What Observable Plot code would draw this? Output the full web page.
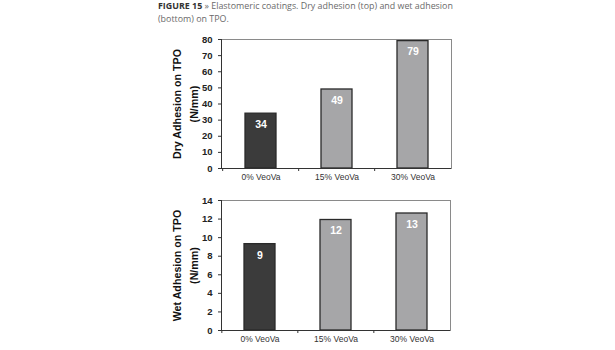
<!DOCTYPE html>
<html>
<head>
<meta charset="utf-8">
<script src="https://cdn.jsdelivr.net/npm/d3@7"></script>
<script src="https://cdn.jsdelivr.net/npm/@observablehq/plot@0.6"></script>
<style>
  html, body { margin: 0; padding: 0; background: #fff; }
  #wrap { position: relative; width: 615px; height: 350px; overflow: hidden; }
  #title { position: absolute; left: 158px; top: 0px; font-family: "Open Sans", sans-serif; font-size: 8.9px; line-height: 12.5px; color: #6a6a6a; white-space: nowrap; }
  #title b { color: #333; font-weight: 700; }
  #top, #bottom { position: absolute; left: 160px; }
  #top { top: 30px; }
  #bottom { top: 190px; }
</style>
</head>
<body>
<div id="wrap">
  <div id="title"><b>FIGURE 15</b> » Elastomeric coatings. Dry adhesion (top) and wet adhesion<br>(bottom) on TPO.</div>
  <div id="top"></div>
  <div id="bottom"></div>
</div>
<script>
const categories = ["0% VeoVa", "15% VeoVa", "30% VeoVa"];
const dryValues = [34, 49, 79];
const dryLabels = ["34", "49", "79"];
const wetValues = [9.3, 11.9, 12.6];
const wetLabels = ["9", "12", "13"];
const dryTicks = [0, 10, 20, 30, 40, 50, 60, 70, 80];
const wetTicks = [0, 2, 4, 6, 8, 10, 12, 14];
const barFills = ["#3b3b3b", "#a6a6a8", "#a6a6a8"];

function chart({values, labels, ticks, yMax, yLabel, height, marginTop, width}) {
  const marginLeft = 61, marginRight = 5, marginBottom = 20;
  const plotW = width - marginLeft - marginRight;
  const plotH = height - marginTop - marginBottom;
  const step = plotW / categories.length;
  const tickUnits = yMax * 3 / plotH;
  const data = categories.map((c, i) => ({cat: c, value: values[i], label: labels[i], fill: barFills[i]}));
  return Plot.plot({
    width, height, marginLeft, marginRight, marginTop, marginBottom,
    style: {fontFamily: "'Liberation Sans', Arial, sans-serif", background: "#fff", color: "#222", overflow: "visible"},
    x: {domain: categories, paddingInner: 0.596, paddingOuter: 0.298},
    y: {domain: [0, yMax]},
    marks: [
      Plot.frame({stroke: "#8a8a8a", strokeWidth: 1}),
      Plot.barY(data, {x: "cat", y: "value", fill: "fill", stroke: "#2a2a2a", strokeWidth: 1.3}),
      Plot.text(data, {x: "cat", y: "value", text: "label", dy: 11, fill: "#fff", fontWeight: "bold", fontSize: 10.5}),
      Plot.ruleY([0], {stroke: "#333"}),
      Plot.ruleX(categories, {x: d => d, dx: -step / 2, y1: 0, y2: -tickUnits, stroke: "#333"}),
      Plot.frame({anchor: "left", stroke: "#333"}),
      Plot.axisY({ticks, tickSize: 3, tickPadding: 6, fontWeight: "bold", fontSize: 9.5, label: null, stroke: "#333"}),
      Plot.axisX({tickSize: 0, tickPadding: 5, fontSize: 8.5, label: null, fill: "#333"}),
      Plot.text([yLabel], {text: d => d, frameAnchor: "left", textAnchor: "middle", lineAnchor: "middle", rotate: -90, dx: -37.5, fontWeight: "bold", fontSize: 10.7, lineHeight: 1.6, fill: "#111"})
    ]
  });
}

document.getElementById("top").append(chart({
  values: dryValues, labels: dryLabels, ticks: dryTicks, yMax: 80,
  yLabel: "Dry Adhesion on TPO\n(N/mm)", height: 158, marginTop: 9, width: 296
}));
document.getElementById("bottom").append(chart({
  values: wetValues, labels: wetLabels, ticks: wetTicks, yMax: 14,
  yLabel: "Wet Adhesion on TPO\n(N/mm)", height: 160, marginTop: 10, width: 295
}));
</script>
</body>
</html>
